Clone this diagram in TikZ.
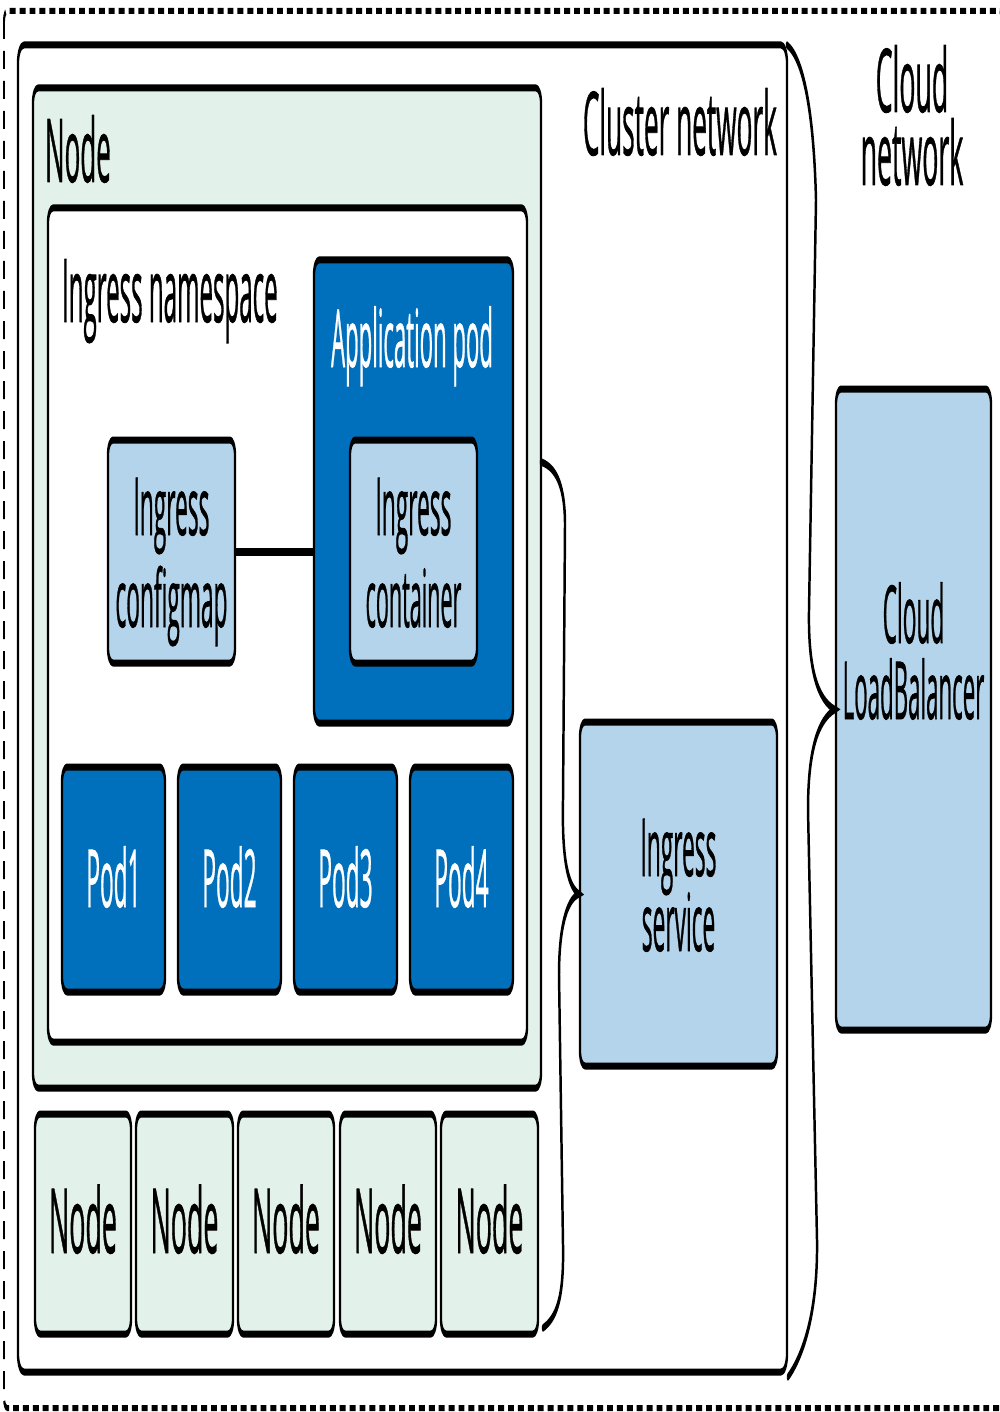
\documentclass[tikz,border=0pt]{standalone}
\usepackage{graphicx}
\usepackage{fontspec}
\setmainfont{Open Sans}[FakeStretch=0.86, FakeBold=1]
\usetikzlibrary{fit}
\definecolor{mint}{HTML}{E2F2EA}
\definecolor{dblue}{HTML}{0070BD}
\definecolor{lblue}{HTML}{B3D4EA}
\newcommand{\txw}[2]{\scalebox{#1}[1]{#2}}
\begin{document}
\begin{tikzpicture}
\useasboundingbox (0pt,0pt) rectangle (999pt,-1412pt);
\begin{scope}[transform canvas={xscale=0.33}, x=3.0303pt, y=-1pt,
  box/.style={draw=black, line width=7pt, rounded corners=15pt, inner sep=0pt},
  bigtxt/.style={inner sep=0pt, font=\fontsize{88pt}{73pt}\selectfont},
  boxtxt/.style={inner sep=0pt, anchor=base, font=\fontsize{80pt}{80pt}\selectfont},
  ndtxt/.style={inner sep=0pt, anchor=base, font=\fontsize{90pt}{90pt}\selectfont},
  brace/.style={draw=black, line width=7.5pt, line cap=round}]
% outer dashed cloud boundary
\draw[line width=6pt, dash pattern=on 18pt off 12pt, rounded corners=10pt] (4,11) rectangle (1003,1408);
% boxes
\node[box, fill=white, rounded corners=18pt, fit={(18,45) (787,1372)}] (cluster) {};
\node[box, fill=mint, fit={(33,88) (541,1088)}] (nodebox) {};
\node[box, fill=white, fit={(48,208) (527,1042)}] (ns) {};
\node[box, fill=dblue, fit={(314,260) (513,723)}] (app) {};
\node[box, fill=lblue, fit={(350,440) (477,663)}] (ictr) {};
\node[box, fill=lblue, fit={(108,440) (235,663)}] (icfg) {};
\node[box, fill=dblue, fit={(62,767) (165,992)}] (pod1) {};
\node[box, fill=dblue, fit={(178,767) (281,992)}] (pod2) {};
\node[box, fill=dblue, fit={(294,767) (397,992)}] (pod3) {};
\node[box, fill=dblue, fit={(410,767) (513,992)}] (pod4) {};
\node[box, fill=lblue, fit={(580,722) (777,1066)}] (svc) {};
\node[box, fill=lblue, fit={(836,389) (991,1030)}] (lb) {};
\node[box, fill=mint, fit={(35,1114) (131,1334)}] (n1) {};
\node[box, fill=mint, fit={(136,1114) (233,1334)}] (n2) {};
\node[box, fill=mint, fit={(238,1114) (334,1334)}] (n3) {};
\node[box, fill=mint, fit={(340,1114) (436,1334)}] (n4) {};
\node[box, fill=mint, fit={(441,1114) (538,1334)}] (n5) {};
% connector configmap - application pod
\draw[line width=8pt] (icfg.east) -- (icfg.east -| app.west);
% braces
\draw[brace] (541,462) .. controls (558,468) and (565,490) .. (565,525)
  -- (563,800) .. controls (562,850) and (566,885) .. (svc.west)
  .. controls (566,900) and (559,930) .. (559,975)
  -- (563,1245) .. controls (564,1300) and (556,1318) .. (543,1328);
\draw[brace] (787,45) .. controls (805,60) and (814,120) .. (816,200)
  -- (809,610) .. controls (808,670) and (818,700) .. (lb.west)
  .. controls (818,720) and (808,750) .. (808,810)
  -- (817,1240) .. controls (818,1320) and (800,1360) .. (788,1377);
% labels
\node[bigtxt, anchor=base west] (tnode) at (45,182) {\txw{1.04}{Node}};
\node[bigtxt, anchor=base west] (tns) at (62,322) {\txw{0.965}{Ingress namespace}};
\node[bigtxt, anchor=base east] (tcluster) at (777,155) {\txw{1.05}{Cluster network}};
\node[bigtxt, anchor=base, align=center] (tcloud) at (912,185) {\txw{1.07}{Cloud}\\\txw{1.07}{network}};
\node[boxtxt, text=white] (tapp) at (412,367) {\txw{0.975}{Application pod}};
\node[boxtxt] (tcfg1) at (icfg.center |- 0,535) {Ingress};
\node[boxtxt] (tcfg2) at (icfg.center |- 0,627) {configmap};
\node[boxtxt] (tctr1) at (ictr.center |- 0,535) {Ingress};
\node[boxtxt] (tctr2) at (ictr.center |- 0,627) {\txw{0.95}{container}};
\node[boxtxt, text=white] (tp1) at (pod1.center |- 0,907) {Pod1};
\node[boxtxt, text=white] (tp2) at (pod2.center |- 0,907) {Pod2};
\node[boxtxt, text=white] (tp3) at (pod3.center |- 0,907) {Pod3};
\node[boxtxt, text=white] (tp4) at (pod4.center |- 0,907) {Pod4};
\node[boxtxt] (tsvc1) at (svc.center |- 0,876) {Ingress};
\node[boxtxt] (tsvc2) at (svc.center |- 0,951) {service};
\node[boxtxt] (tlb1) at (lb.center |- 0,643) {Cloud};
\node[boxtxt] (tlb2) at (lb.center |- 0,719) {\txw{0.98}{LoadBalancer}};
\node[ndtxt] (tn1) at (n1.center |- 0,1253) {\txw{1.05}{Node}};
\node[ndtxt] (tn2) at (n2.center |- 0,1253) {\txw{1.05}{Node}};
\node[ndtxt] (tn3) at (n3.center |- 0,1253) {\txw{1.05}{Node}};
\node[ndtxt] (tn4) at (n4.center |- 0,1253) {\txw{1.05}{Node}};
\node[ndtxt] (tn5) at (n5.center |- 0,1253) {\txw{1.05}{Node}};
\end{scope}
\end{tikzpicture}
\end{document}
